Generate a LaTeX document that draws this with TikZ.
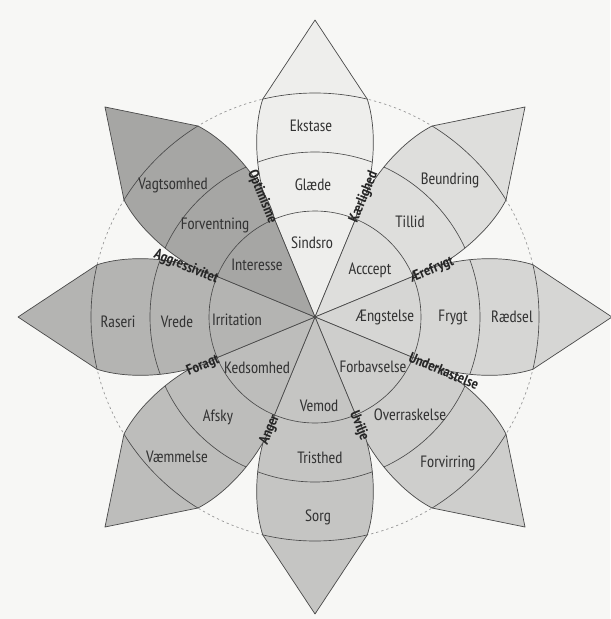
\documentclass[tikz,border=0pt]{standalone}
\usepackage{fontspec}
\newfontfamily\labfont{PT Sans Narrow}
\definecolor{bgcol}{HTML}{F7F7F5}
\definecolor{cjoy}{HTML}{EEEEEC}
\definecolor{ctrust}{HTML}{DEDEDC}
\definecolor{cfear}{HTML}{D6D6D4}
\definecolor{csurprise}{HTML}{CECECC}
\definecolor{csadness}{HTML}{C5C5C3}
\definecolor{cdisgust}{HTML}{BDBDBB}
\definecolor{canger}{HTML}{B4B4B2}
\definecolor{canticip}{HTML}{A6A6A4}
\definecolor{linecol}{HTML}{4A4A4A}
\definecolor{textcol}{HTML}{333333}
\tikzset{
  ringline/.style={draw=linecol,line width=0.55pt},
  edgeline/.style={draw=linecol,line width=0.6pt,line join=round},
  dashcircle/.style={draw=black!40,line width=0.6pt,dash pattern=on 2pt off 2.5pt},
  lab/.style={font=\labfont\fontsize{14}{15}\selectfont,text=textcol,inner sep=1pt},
  dyad/.style={font=\labfont\bfseries\fontsize{12.5}{13}\selectfont,text=black!85,inner sep=0.5pt}
}
\def\petalpath{(0,0) -- (40.6,97.9) .. controls (56,122) and (65,178) .. (52.3,217.8) -- (0,297) -- (-52.3,217.8) .. controls (-65,178) and (-56,122) .. (-40.6,97.9) -- cycle}
\begin{document}
\begin{tikzpicture}[x=0.3mm,y=0.3mm]
\fill[bgcol] (0,0) rectangle (610,-619);
\useasboundingbox (0,0) rectangle (610,-619);
\coordinate (C) at (315,-317);
\draw[dashcircle] (C) circle [radius=224];
\foreach \ang/\col in {90/cjoy,45/ctrust,0/cfear,-45/csurprise,-90/csadness,-135/cdisgust,180/canger,135/canticip}{
  \begin{scope}[shift={(C)},rotate=\ang-90]
    \fill[\col] \petalpath;
    \begin{scope}
      \clip \petalpath;
      \draw[ringline] (0,0) circle [radius=106];
      \draw[ringline] (0,0) circle [radius=165];
      \draw[ringline] (0,0) circle [radius=224];
    \end{scope}
    \draw[edgeline] \petalpath;
  \end{scope}
}
% emotion labels
\node[lab] (ekstase) at (311,-126) {Ekstase};
\node[lab] (glaede) at (313,-185) {Glæde};
\node[lab] (sindsro) at (312,-243) {Sindsro};
\node[lab] (beundring) at (450,-180) {Beundring};
\node[lab] (tillid) at (410,-222) {Tillid};
\node[lab] (accept) at (370,-270) {Acccept};
\node[lab] (aengstelse) at (385,-317) {Ængstelse};
\node[lab] (frygt) at (453,-317) {Frygt};
\node[lab] (raedsel) at (512,-317) {Rædsel};
\node[lab] (forbavselse) at (373,-367) {Forbavselse};
\node[lab] (overraskelse) at (410,-415) {Overraskelse};
\node[lab] (forvirring) at (448,-463) {Forvirring};
\node[lab] (vemod) at (319,-406) {Vemod};
\node[lab] (tristhed) at (320,-458) {Tristhed};
\node[lab] (sorg) at (318,-517) {Sorg};
\node[lab] (kedsomhed) at (257,-368) {Kedsomhed};
\node[lab] (afsky) at (218,-417) {Afsky};
\node[lab] (vaemmelse) at (177,-457) {Væmmelse};
\node[lab] (raseri) at (118,-322) {Raseri};
\node[lab] (vrede) at (177,-322) {Vrede};
\node[lab] (irritation) at (237,-320) {Irritation};
\node[lab] (interesse) at (257,-265) {Interesse};
\node[lab] (forventning) at (215,-225) {Forventning};
\node[lab] (vagtsomhed) at (173,-185) {Vagtsomhed};
% dyad labels
\node[dyad,rotate=-67.5] (optimisme) at (262,-197) {Optimisme};
\node[dyad,rotate=67.5] (kaerlighed) at (364,-197) {Kærlighed};
\node[dyad,rotate=22.5] (aerefrygt) at (432,-270) {Ærefrygt};
\node[dyad,rotate=-22.5] (underkastelse) at (444,-371) {Underkastelse};
\node[dyad,rotate=-67.5] (uvilje) at (359,-426) {Uvilje};
\node[dyad,rotate=67.5] (anger) at (270,-430) {Anger};
\node[dyad,rotate=22.5] (foragt) at (203,-366) {Foragt};
\node[dyad,rotate=-22.5] (aggressivitet) at (186,-267) {Aggressivitet};
\end{tikzpicture}
\end{document}
